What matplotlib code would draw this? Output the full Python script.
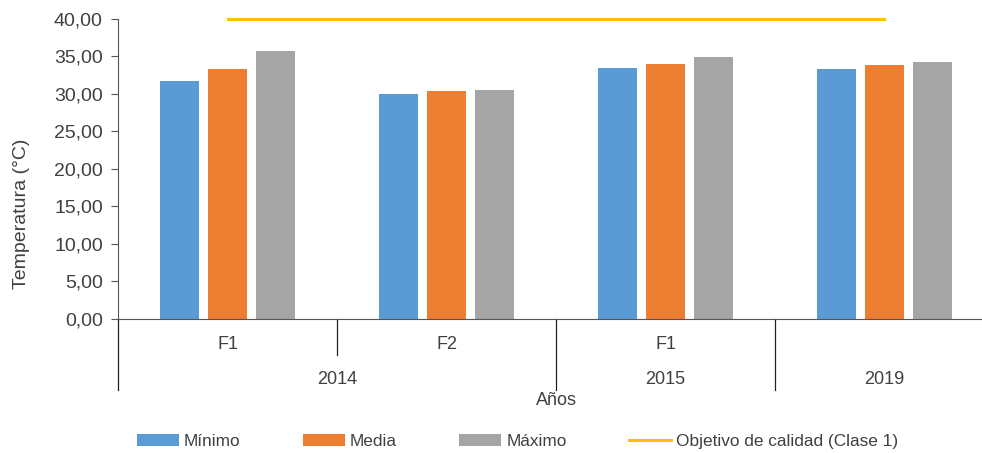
import numpy as np
import matplotlib
matplotlib.use("Agg")
import matplotlib.pyplot as plt
from matplotlib.patches import Patch
from matplotlib.lines import Line2D
from matplotlib.ticker import FuncFormatter

plt.rcParams['font.family'] = ['Liberation Sans', 'DejaVu Sans']

# Data: one group per campaign (phase / year)
phases = ["F1", "F2", "F1", ""]
years = ["2014", "2015", "2019"]
minimo = [31.7, 30.0, 33.5, 33.3]
media = [33.3, 30.4, 34.0, 33.8]
maximo = [35.7, 30.5, 34.9, 34.2]
objetivo = 40.0

series_names = ["Mínimo", "Media", "Máximo"]
colors = ["#5B9BD5", "#ED7D31", "#A5A5A5"]
line_color = "#FFC000"
text_color = "#404040"

fig = plt.figure(figsize=(9.82, 4.53), dpi=100)
ax = fig.add_axes([0.1202, 0.2958, 0.892, 0.6623])

x = np.arange(len(phases))
offset = 0.219
width = 0.175
for k, (vals, col) in enumerate(zip([minimo, media, maximo], colors)):
    ax.bar(x + (k - 1) * offset, vals, width=width, color=col, zorder=2)

# quality target line across the groups
ax.plot([x[0], x[-1]], [objetivo, objetivo], color=line_color, lw=2.2,
        clip_on=False, zorder=3)

ax.set_xlim(-0.5, len(phases) - 0.5)
ax.set_ylim(0, 40)
ax.set_yticks(np.arange(0, 41, 5))
ax.yaxis.set_major_formatter(FuncFormatter(lambda v, p: f"{v:.2f}".replace(".", ",")))
ax.tick_params(axis='y', labelsize=14, colors=text_color, length=5, width=0.8,
               color="#555555", pad=6)
ax.tick_params(axis='x', bottom=False, labelbottom=False)
for s in ["top", "right"]:
    ax.spines[s].set_visible(False)
ax.spines["left"].set_color("#555555")
ax.spines["bottom"].set_color("#555555")

fig.text(22 / 982, 1 - 214 / 453, "Temperatura (°C)", rotation=90,
         ha="center", va="center", fontsize=14, color=text_color)

# two-level category axis
tr = ax.get_xaxis_transform()
for i, ph in enumerate(phases):
    ax.text(x[i], -0.085, ph, transform=tr, ha="center", va="center",
            fontsize=13, color=text_color)
year_pos = [0.5, 2, 3]
for yp, yr in zip(year_pos, years):
    ax.text(yp, -0.2, yr, transform=tr, ha="center", va="center",
            fontsize=13, color=text_color)
ax.plot([0.5, 0.5], [0, -0.12], transform=tr, color="#222222", lw=0.9, clip_on=False)
for xs in [-0.5, 1.5, 2.5, 3.5]:
    ax.plot([xs, xs], [0, -0.237], transform=tr, color="#222222", lw=0.9, clip_on=False)
ax.text(1.5, -0.27, "Años", transform=tr, ha="center", va="center",
        fontsize=13, color=text_color)

handles = [Patch(facecolor=c) for c in colors]
handles.append(Line2D([0], [0], color=line_color, lw=2.2))
labels = series_names + ["Objetivo de calidad (Clase 1)"]
fig.legend(handles, labels, loc="center", bbox_to_anchor=(0.527, 0.026), ncol=4,
           frameon=False, fontsize=12.4, handlelength=2.45, handleheight=0.75,
           columnspacing=3.6, handletextpad=0.3, labelcolor=text_color)

fig.savefig("out.png", dpi=100)
